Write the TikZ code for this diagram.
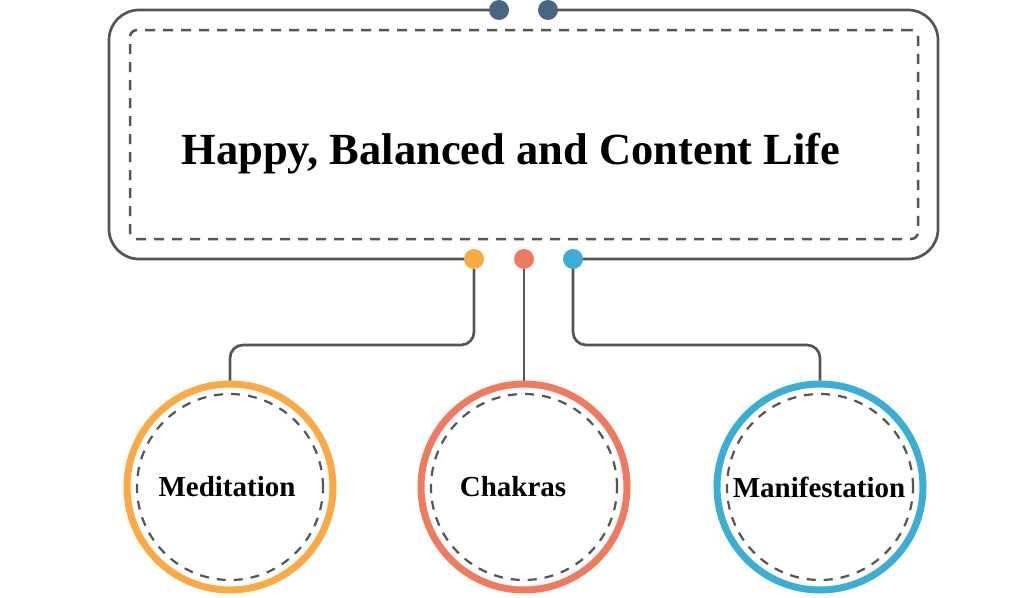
\documentclass[tikz,border=0pt]{standalone}
\usepackage{fontspec}
\newfontfamily\labfont{Liberation Serif}
\definecolor{lineg}{HTML}{555555}
\definecolor{dotblue}{HTML}{4A6584}
\definecolor{corange}{HTML}{F9AA45}
\definecolor{cred}{HTML}{EE7B5F}
\definecolor{cblue}{HTML}{3CAED4}
\tikzset{
  conn/.style={draw=lineg, line width=2.7pt},
  dot/.style={circle, minimum size=20pt, inner sep=0pt, outer sep=0pt},
  ring/.style={circle, draw, line width=7pt, minimum size=206pt, inner sep=0pt, fill=white},
  innerring/.style={circle, draw=lineg, line width=2.2pt, dash pattern=on 9pt off 8pt, minimum size=186pt, inner sep=0pt},
  lab/.style={font=\labfont\bfseries\fontsize{29}{32}\selectfont, text=black}
}
\begin{document}
\begin{tikzpicture}[x=1pt,y=-1pt]
\useasboundingbox (0,0) rectangle (1024,597);
% dots
\node[dot, fill=dotblue] (t1) at (499,10) {};
\node[dot, fill=dotblue] (t2) at (548,10) {};
\node[dot, fill=corange] (bo) at (474,259) {};
\node[dot, fill=cred] (br) at (524,259) {};
\node[dot, fill=cblue] (bb) at (573,259) {};
% outer frame
\draw[conn, rounded corners=30pt] (t1.west) -- (109,10) -- (109,259) -- (bo.west);
\draw[conn, rounded corners=30pt] (bb.east) -- (938,259) -- (938,10) -- (t2.east);
% inner dashed box
\node[draw=lineg, line width=2.5pt, dash pattern=on 10pt off 8pt, rounded corners=7pt,
      minimum width=788pt, minimum height=209pt, inner sep=0pt] (inner) at (524,134.5) {};
\node[font=\labfont\bfseries\fontsize{44.5}{48}\selectfont] (title) at (511,154) {Happy, Balanced and Content Life};
% circles
\node[ring, draw=corange] (med) at (230,487) {};
\node[ring, draw=cred] (cha) at (524,487) {};
\node[ring, draw=cblue] (man) at (820,487) {};
\node[innerring] (medi) at (med) {};
\node[innerring] (chai) at (cha) {};
\node[innerring] (mani) at (man) {};
\node[lab] (medl) at (227,487) {Meditation};
\node[lab] (chal) at (513,487) {Chakras};
\node[lab] (manl) at (819,487) {Manifestation};
% connectors
\draw[conn, rounded corners=13pt] (bo.south) -- (474,345) -| (med.north);
\draw[conn] (br.south) -- (cha.north);
\draw[conn, rounded corners=13pt] (bb.south) -- (573,345) -| (man.north);
\end{tikzpicture}
\end{document}
